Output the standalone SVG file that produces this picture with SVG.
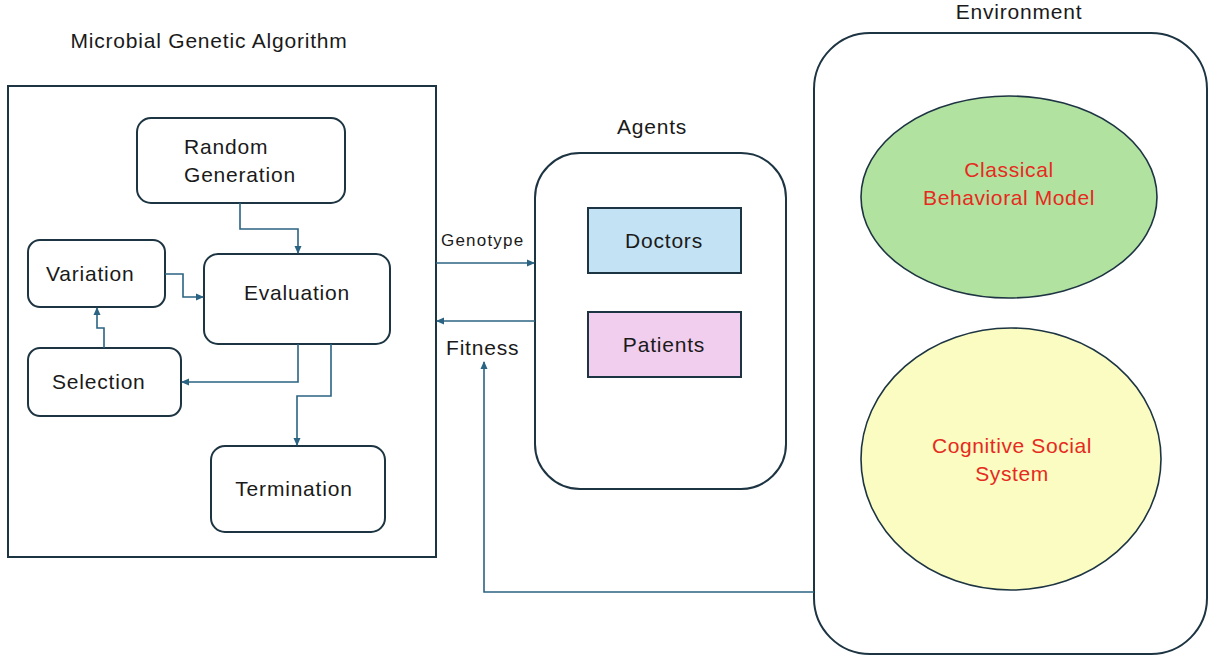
<svg xmlns="http://www.w3.org/2000/svg" width="1209" height="655" viewBox="0 0 1209 655">
<defs>
<marker id="ah" markerWidth="8" markerHeight="8" refX="7" refY="4" orient="auto" markerUnits="userSpaceOnUse">
<path d="M0,0.5 L8,4 L0,7.5 Z" fill="#2b6383"/>
</marker>
<style>
.box{fill:#fff;stroke:#1d3442;stroke-width:2}
.t{font-family:"Liberation Sans",Arial,sans-serif;font-size:21px;letter-spacing:0.8px;fill:#1a1a1a}
.tc{text-anchor:middle}
.r{font-family:"Liberation Sans",Arial,sans-serif;font-size:21px;letter-spacing:0.6px;fill:#e62a20;text-anchor:middle}
.c{fill:none;stroke:#2b6383;stroke-width:1.6;marker-end:url(#ah)}
</style>
</defs>
<rect width="1209" height="655" fill="#fff"/>

<g id="mga">
<rect x="8" y="86" width="428" height="471" fill="#fff" stroke="#1d3442" stroke-width="2"/>
<text class="t tc" x="209" y="48">Microbial Genetic Algorithm</text>
</g>
<g id="random-generation">
<rect class="box" x="137" y="118" width="208" height="85" rx="14"/>
<text class="t" x="184" y="154">Random</text>
<text class="t" x="184" y="182">Generation</text>
</g>
<g id="evaluation">
<rect class="box" x="204" y="254" width="186" height="90" rx="14"/>
<text class="t tc" x="297" y="300">Evaluation</text>
</g>
<g id="variation">
<rect class="box" x="28" y="240" width="137" height="67" rx="12"/>
<text class="t" x="46" y="281">Variation</text>
</g>
<g id="selection">
<rect class="box" x="28" y="348" width="153" height="68" rx="12"/>
<text class="t" x="52" y="389">Selection</text>
</g>
<g id="termination">
<rect class="box" x="211" y="446" width="174" height="86" rx="14"/>
<text class="t tc" x="294" y="496">Termination</text>
</g>

<g id="agents">
<rect class="box" x="535" y="153" width="251" height="336" rx="45"/>
<text class="t tc" x="652" y="134">Agents</text>
</g>
<g id="doctors">
<rect x="588" y="208" width="153" height="65" fill="#c3e3f4" stroke="#1d3442" stroke-width="2"/>
<text class="t tc" x="664" y="248">Doctors</text>
</g>
<g id="patients">
<rect x="588" y="312" width="153" height="65" fill="#f1cdee" stroke="#1d3442" stroke-width="2"/>
<text class="t tc" x="664" y="352">Patients</text>
</g>

<g id="environment">
<rect class="box" x="814" y="33" width="393" height="621" rx="56"/>
<text class="t tc" x="1019" y="19">Environment</text>
</g>
<g id="classical">
<ellipse cx="1009" cy="197" rx="148" ry="101" fill="#b2e2a0" stroke="#1d3442" stroke-width="1.6"/>
<text class="r" x="1009" y="177">Classical</text>
<text class="r" x="1009" y="205">Behavioral Model</text>
</g>
<g id="cognitive">
<ellipse cx="1011" cy="459" rx="150" ry="131" fill="#fafcc2" stroke="#1d3442" stroke-width="1.6"/>
<text class="r" x="1012" y="453">Cognitive Social</text>
<text class="r" x="1012" y="481">System</text>
</g>

<g id="connectors">
<path class="c" d="M240,203 V229 H298 V253"/>
<path class="c" d="M165,274 H183 V297 H203"/>
<path class="c" d="M298,344 V382 H182"/>
<path class="c" d="M331,344 V396 H297 V445"/>
<path class="c" d="M104,348 V328 H97 V308"/>
<path class="c" d="M436,263 H534"/>
<path class="c" d="M535,321 H437"/>
<path class="c" d="M814,592 H484 V362"/>
<text font-family="Liberation Sans,Arial,sans-serif" font-size="17" letter-spacing="1.2" fill="#1a1a1a" x="441" y="246">Genotype</text>
<text class="t" x="446" y="355">Fitness</text>
</g>
</svg>
